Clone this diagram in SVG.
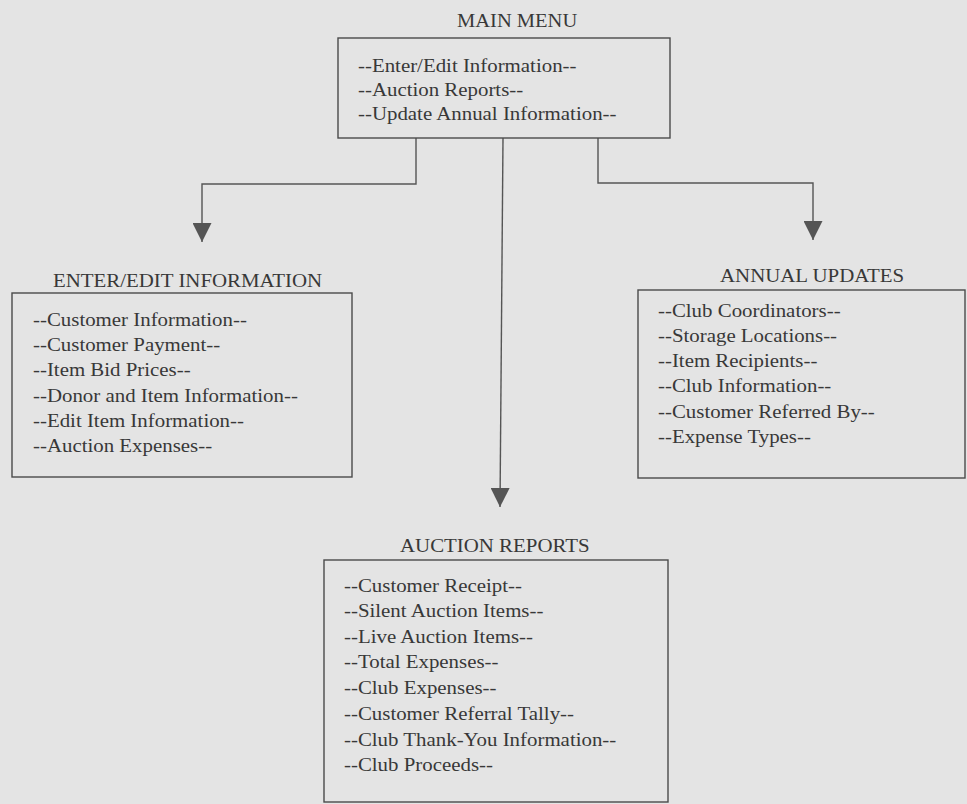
<svg xmlns="http://www.w3.org/2000/svg" width="967" height="804" viewBox="0 0 967 804">
<style>
.bg{fill:#e4e4e4}
.box{fill:none;stroke:#4a4a4a;stroke-width:1.4}
.t{font-family:"Liberation Serif","Times New Roman",serif;font-size:18px;fill:#383838}
.conn{fill:none;stroke:#555;stroke-width:1.4}
</style>
<defs>
<marker id="arr" viewBox="0 0 20 20" refX="20" refY="10" markerWidth="20" markerHeight="19" markerUnits="userSpaceOnUse" orient="auto">
<path d="M0,0 L20,10 L0,20 z" fill="#555"/>
</marker>
</defs>
<rect class="bg" x="0" y="0" width="967" height="804"/>
<g id="connectors">
<path class="conn" d="M416,138 V184 H202 V242" marker-end="url(#arr)"/>
<path class="conn" d="M503,138 L500,507" marker-end="url(#arr)"/>
<path class="conn" d="M598,138 V183 H813 V240" marker-end="url(#arr)"/>
</g>
<g id="main-menu">
<text class="t" transform="translate(457,27) scale(1.14,1)">MAIN MENU</text>
<rect class="box" x="338" y="38" width="332" height="100"/>
<text class="t" transform="translate(358,72) scale(1.16,1)">--Enter/Edit Information--</text>
<text class="t" transform="translate(358,96) scale(1.16,1)">--Auction Reports--</text>
<text class="t" transform="translate(358,120) scale(1.16,1)">--Update Annual Information--</text>
</g>
<g id="enter-edit">
<text class="t" transform="translate(53,287) scale(1.16,1)">ENTER/EDIT INFORMATION</text>
<rect class="box" x="12" y="293" width="340" height="184"/>
<text class="t" transform="translate(33,326) scale(1.16,1)">--Customer Information--</text>
<text class="t" transform="translate(33,351) scale(1.16,1)">--Customer Payment--</text>
<text class="t" transform="translate(33,376) scale(1.16,1)">--Item Bid Prices--</text>
<text class="t" transform="translate(33,402) scale(1.16,1)">--Donor and Item Information--</text>
<text class="t" transform="translate(33,427) scale(1.16,1)">--Edit Item Information--</text>
<text class="t" transform="translate(33,452) scale(1.16,1)">--Auction Expenses--</text>
</g>
<g id="annual-updates">
<text class="t" transform="translate(720,282) scale(1.16,1)">ANNUAL UPDATES</text>
<rect class="box" x="638" y="290" width="327" height="188"/>
<text class="t" transform="translate(658,317) scale(1.16,1)">--Club Coordinators--</text>
<text class="t" transform="translate(658,342) scale(1.16,1)">--Storage Locations--</text>
<text class="t" transform="translate(658,367) scale(1.16,1)">--Item Recipients--</text>
<text class="t" transform="translate(658,392) scale(1.16,1)">--Club Information--</text>
<text class="t" transform="translate(658,418) scale(1.16,1)">--Customer Referred By--</text>
<text class="t" transform="translate(658,443) scale(1.16,1)">--Expense Types--</text>
</g>
<g id="auction-reports">
<text class="t" transform="translate(400,552) scale(1.16,1)">AUCTION REPORTS</text>
<rect class="box" x="324" y="560" width="344" height="242"/>
<text class="t" transform="translate(344,592) scale(1.16,1)">--Customer Receipt--</text>
<text class="t" transform="translate(344,617) scale(1.16,1)">--Silent Auction Items--</text>
<text class="t" transform="translate(344,643) scale(1.16,1)">--Live Auction Items--</text>
<text class="t" transform="translate(344,668) scale(1.16,1)">--Total Expenses--</text>
<text class="t" transform="translate(344,694) scale(1.16,1)">--Club Expenses--</text>
<text class="t" transform="translate(344,720) scale(1.16,1)">--Customer Referral Tally--</text>
<text class="t" transform="translate(344,746) scale(1.16,1)">--Club Thank-You Information--</text>
<text class="t" transform="translate(344,771) scale(1.16,1)">--Club Proceeds--</text>
</g>
</svg>
